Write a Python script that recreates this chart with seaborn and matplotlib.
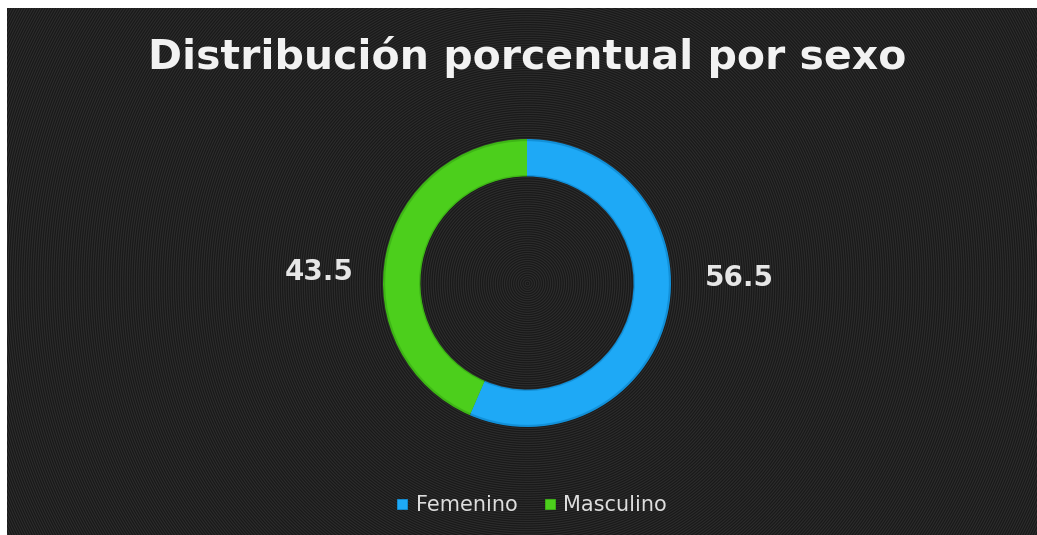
import numpy as np
import matplotlib
matplotlib.use("Agg")
import matplotlib.pyplot as plt
from matplotlib.lines import Line2D
import seaborn as sns

# data
categorias = ["Femenino", "Masculino"]
porcentajes = [56.5, 43.5]
colores = ["#1ea9f6", "#4ccf1c"]
colores_borde = ["#1290d8", "#3eb516"]
titulo = "Distribución porcentual por sexo"

sns.set_style("dark")
plt.rcParams["font.family"] = ["DejaVu Sans"]

W, H = 1037, 535
fig = plt.figure(figsize=(W / 100, H / 100), dpi=100, facecolor="white")

# dark background with fine concentric rings (moire look)
bx0, by_top = 7, 8
bg = fig.add_axes([bx0 / W, 0, 1 - bx0 / W, 1 - by_top / H])
cx, cy = 527 - bx0, 283 - by_top
yy, xx = np.mgrid[0:H - by_top, 0:W - bx0]
r = np.hypot(xx - cx, yy - cy)
pattern = 0.135 + 0.035 * np.cos(2 * np.pi * r / 2.3)
bg.imshow(pattern, cmap="gray", vmin=0, vmax=1, interpolation="nearest", aspect="auto")
bg.set_axis_off()

# donut: solid ring, slightly darker rim on both edges
R = 144
ax = fig.add_axes([(527 - R) / W, (H - 283 - R) / H, 2 * R / W, 2 * R / H])
ax.pie(porcentajes, colors=colores_borde, startangle=90, counterclock=False,
       wedgeprops=dict(width=0.26, edgecolor="none"))
ax.pie(porcentajes, colors=colores, startangle=90, counterclock=False, radius=0.985,
       wedgeprops=dict(width=0.235, edgecolor="none"))
ax.set_xlim(-1, 1)
ax.set_ylim(-1, 1)
ax.set_aspect("equal")
ax.patch.set_visible(False)
ax.set_axis_off()

# value labels beside the ring
pos_x = [1.472, -1.441]
pos_y = [-0.021, 0.021]
for v, x, y in zip(porcentajes, pos_x, pos_y):
    ax.text(x, y, f"{v}", ha="center", va="baseline", fontsize=20,
            fontweight="bold", color="#e6e6e6", clip_on=False)

fig.text(527.5 / W, 1 - 69 / H, titulo, ha="center", va="baseline",
         fontsize=29.5, fontweight="bold", color="#f2f2f2")

handles = [Line2D([], [], marker="s", linestyle="none", markersize=7.5,
                  markerfacecolor=c, markeredgecolor=e, markeredgewidth=0.6)
           for c, e in zip(colores, colores_borde)]
fig.legend(handles, categorias, loc="center", bbox_to_anchor=(531.5 / W, 1 - 505 / H),
           ncol=2, frameon=False, fontsize=15, labelcolor="#dddddd",
           handletextpad=0.35, columnspacing=1.25, handlelength=0.6,
           borderpad=0, borderaxespad=0)

fig.savefig("out.png", dpi=100, facecolor="white")
